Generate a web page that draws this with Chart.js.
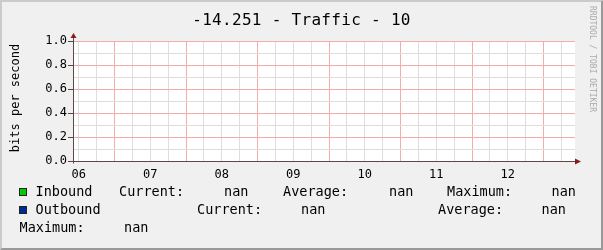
<!DOCTYPE html>
<html>
<head>
<meta charset="utf-8">
<script src="https://cdn.jsdelivr.net/npm/chart.js@4.4.0/dist/chart.umd.min.js"></script>
<style>
  html, body { margin: 0; padding: 0; background: #f0f0f0; }
  #wrap { position: relative; width: 603px; height: 250px; overflow: hidden;
          font-family: "DejaVu Sans Mono", monospace; color: #000; }
  #c { position: absolute; left: 0; top: 0; }
  #frame { position: absolute; left: 0; top: 0; width: 603px; height: 250px; box-sizing: border-box;
           border-top: 2px solid #cbcbcb; border-left: 2px solid #cbcbcb;
           border-right: 2px solid #999; border-bottom: 2px solid #999; pointer-events: none; }
  .t { position: absolute; white-space: pre; }
  #title { left: 0; width: 603px; top: 10px; text-align: center; font-size: 16px; line-height: 20px; letter-spacing: 0.3px; }
  #ytitle { left: -45px; top: 90px; width: 120px; text-align: center; font-size: 12px; line-height: 16px;
            transform: rotate(-90deg); }
  #mark { left: 532px; top: 54px; width: 120px; text-align: center; font-size: 8px; line-height: 10px;
          color: #aaa; transform: rotate(90deg); }
  .lg { font-size: 13.5px; line-height: 16px; }
  .sq { position: absolute; width: 8px; height: 8px; box-sizing: border-box; border: 1px solid #222; }
</style>
</head>
<body>
<div id="wrap">
  <canvas id="c" width="603" height="250"></canvas>
  <div class="t" id="title">-14.251 - Traffic - 10</div>
  <div class="t" id="ytitle">bits per second</div>
  <div class="t" id="mark">RRDTOOL / TOBI OETIKER</div>

  <div class="sq" style="left:19px;top:188px;background:#00cc00"></div>
  <div class="t lg" style="left:35.5px;top:183px">Inbound</div>
  <div class="t lg" style="left:119px;top:183px">Current:</div>
  <div class="t lg" style="left:224px;top:183px">nan</div>
  <div class="t lg" style="left:283px;top:183px">Average:</div>
  <div class="t lg" style="left:389px;top:183px">nan</div>
  <div class="t lg" style="left:447px;top:183px">Maximum:</div>
  <div class="t lg" style="left:551.5px;top:183px">nan</div>

  <div class="sq" style="left:19px;top:206px;background:#002a97"></div>
  <div class="t lg" style="left:35.5px;top:201px">Outbound</div>
  <div class="t lg" style="left:197px;top:201px">Current:</div>
  <div class="t lg" style="left:301px;top:201px">nan</div>
  <div class="t lg" style="left:438px;top:201px">Average:</div>
  <div class="t lg" style="left:541.5px;top:201px">nan</div>

  <div class="t lg" style="left:19.5px;top:219px">Maximum:</div>
  <div class="t lg" style="left:124px;top:219px">nan</div>

  <div id="frame"></div>
</div>
<script>
// hours shown on the time axis and their labels
const hours = [6, 7, 8, 9, 10, 11, 12];
const hourLabels = ["06", "07", "08", "09", "10", "11", "12"];
// no samples in the window: every value is nan
const inbound = [null, null, null, null, null, null, null];
const outbound = [null, null, null, null, null, null, null];
const yLabels = ["0.0", "0.2", "0.4", "0.6", "0.8", "1.0"];
const xMin = 5.919, xMax = 12.94;

const minorGrid = "#dedede";
const majorGrid = "#f2acac";
const axisColor = "#5a4848";
const arrowColor = "#8b1c1c";

// white plot area, plus rrdtool-style axes with arrow heads
const rrdAxes = {
  id: "rrdAxes",
  beforeDraw(chart) {
    const a = chart.chartArea, ctx = chart.ctx;
    ctx.save();
    ctx.fillStyle = "#ffffff";
    ctx.fillRect(a.left, a.top, a.right - a.left, a.bottom - a.top);
    ctx.restore();
  },
  afterDraw(chart) {
    const ctx = chart.ctx;
    const y0 = Math.round(chart.scales.y.getPixelForValue(0)) + 0.5;
    const x0 = Math.round(chart.scales.x.left) + 0.5;
    const right = chart.chartArea.right;
    const top = chart.chartArea.top;
    ctx.save();
    ctx.strokeStyle = axisColor;
    ctx.lineWidth = 1;
    ctx.beginPath();
    ctx.moveTo(x0 - 3, y0); ctx.lineTo(right + 1, y0);
    ctx.moveTo(x0, y0 + 2); ctx.lineTo(x0, top - 4);
    ctx.stroke();
    ctx.fillStyle = arrowColor;
    ctx.beginPath();
    ctx.moveTo(right, y0 - 3); ctx.lineTo(right + 6, y0); ctx.lineTo(right, y0 + 3);
    ctx.closePath(); ctx.fill();
    ctx.beginPath();
    ctx.moveTo(x0 - 3, top - 3); ctx.lineTo(x0, top - 8); ctx.lineTo(x0 + 3, top - 3);
    ctx.closePath(); ctx.fill();
    ctx.restore();
  }
};

const tickFont = { family: "DejaVu Sans Mono", size: 12 };

new Chart(document.getElementById("c"), {
  type: "line",
  data: {
    datasets: [
      { label: "Inbound", data: hours.map((h, i) => ({ x: h, y: inbound[i] })), borderColor: "#00cc00", backgroundColor: "#00cc00", pointRadius: 0 },
      { label: "Outbound", data: hours.map((h, i) => ({ x: h, y: outbound[i] })), borderColor: "#002a97", backgroundColor: "#002a97", pointRadius: 0 }
    ]
  },
  options: {
    responsive: false,
    animation: false,
    devicePixelRatio: 1,
    layout: { padding: { top: 41, right: 28, left: 0, bottom: 0 } },
    plugins: { legend: { display: false }, title: { display: false }, tooltip: { enabled: false } },
    scales: {
      x: {
        type: "linear",
        min: xMin,
        max: xMax,
        afterFit(scale) { scale.height = 89; },
        afterBuildTicks(scale) {
          // a grid line every quarter hour
          const t = [];
          for (let q = hours[0] * 4; q / 4 < xMax; q++) t.push({ value: q / 4 });
          scale.ticks = t;
        },
        border: { display: false },
        grid: {
          drawTicks: false,
          color: ctx => (ctx.tick && Math.round(ctx.tick.value * 4) % 4 === 2) ? majorGrid : minorGrid
        },
        ticks: {
          autoSkip: false,
          maxRotation: 0,
          padding: 7,
          color: "#000",
          font: tickFont,
          callback: v => {
            const i = hours.indexOf(v);
            return i >= 0 ? hourLabels[i] : "";
          }
        }
      },
      y: {
        min: 0,
        max: 1,
        afterFit(scale) { scale.width = 73; },
        afterBuildTicks(scale) {
          const t = [];
          for (let i = 0; i <= 10; i++) t.push({ value: i / 10 });
          scale.ticks = t;
        },
        border: { display: false },
        grid: {
          drawTicks: true,
          tickLength: 5,
          color: ctx => ctx.index % 2 === 0 ? majorGrid : minorGrid,
          tickColor: ctx => ctx.index % 2 === 0 ? axisColor : "rgba(0,0,0,0)"
        },
        ticks: {
          autoSkip: false,
          padding: 1,
          color: "#000",
          font: tickFont,
          callback: (v, i) => i % 2 === 0 ? yLabels[i / 2] : ""
        }
      }
    }
  },
  plugins: [rrdAxes]
});
</script>
</body>
</html>
